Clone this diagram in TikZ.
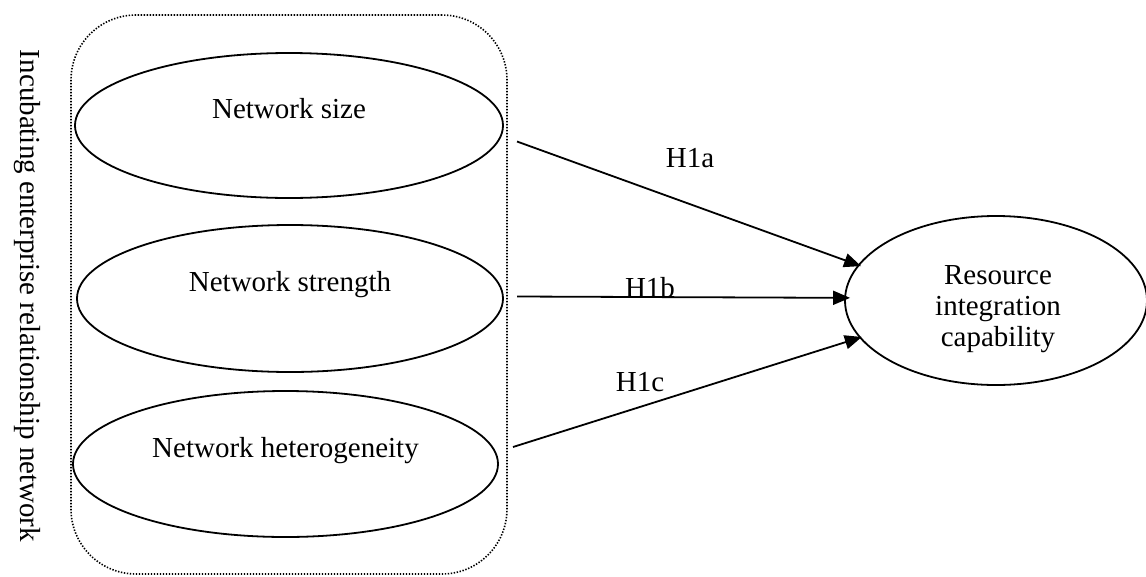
\documentclass[tikz,border=0pt]{standalone}
\usepackage{fontspec}
\setmainfont{Liberation Serif}
\usetikzlibrary{shapes.geometric,arrows.meta}
\begin{document}
\begin{tikzpicture}[x=1pt,y=-1pt,
  every node/.style={inner sep=0pt, outer sep=0pt},
  lbl/.style={font=\fontsize{29}{31}\selectfont},
  factor/.style={ellipse, draw, line width=1.8pt},
  groupbox/.style={draw, line width=1.6pt, dash pattern=on 1.4pt off 1.6pt,
    rounded corners=65pt},
  arr/.style={line width=1.8pt, -{Triangle[length=17pt,width=14pt]}}
]
\useasboundingbox (0,0) rectangle (1146,576);

% dotted frame around the three network dimensions
\node[groupbox, minimum width=436pt, minimum height=559pt] (group) at (289,294.5) {};

% network dimensions
\node[factor, minimum width=428pt, minimum height=145pt] (size) at (289,125.5) {};
\node[factor, minimum width=426pt, minimum height=147pt] (strength) at (290,298.5) {};
\node[factor, minimum width=425pt, minimum height=146pt] (hetero) at (285.5,464) {};
\node[lbl, anchor=base] (sizetext) at ([yshift=7pt]size.center) {Network size};
\node[lbl, anchor=base] (strengthtext) at ([yshift=7pt]strength.center) {Network strength};
\node[lbl, anchor=base] (heterotext) at ([yshift=7pt]hetero.center) {Network heterogeneity};

% outcome
\node[factor, minimum width=302pt, minimum height=169pt] (resource) at (996,300.5) {};
\node[lbl, align=center] (restext) at (998,309.5) {Resource\\integration\\capability};

% side title
\node[lbl, rotate=-90] (title) at (27,296) {Incubating enterprise relationship network};

% hypotheses
\draw[arr] ([shift={(14,16)}]size.east) -- ([xshift=3pt]resource.166);
\draw[arr] ([shift={(14,-2)}]strength.east) -- ([xshift=5pt]resource.179);
\draw[arr] ([shift={(15,-17)}]hetero.east) -- ([xshift=2pt]resource.195);

\node[lbl, anchor=base] (h1a) at (690,167) {H1a};
\node[lbl, anchor=base] (h1b) at (650,297) {H1b};
\node[lbl, anchor=base] (h1c) at (640,391) {H1c};
\end{tikzpicture}
\end{document}
